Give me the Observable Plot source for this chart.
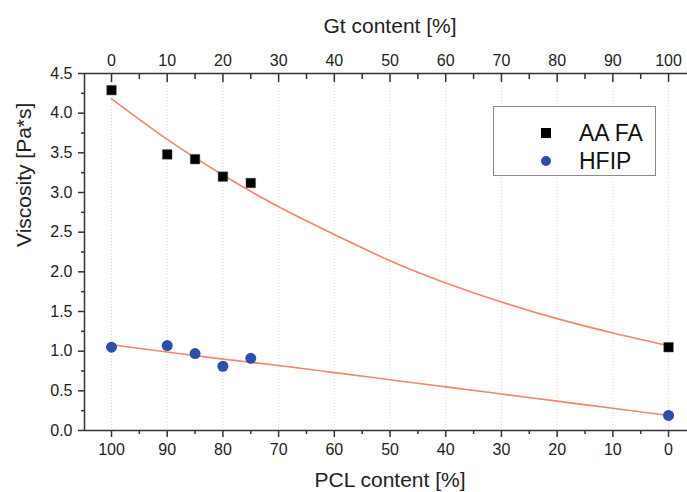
<!DOCTYPE html>
<html><head><meta charset="utf-8">
<script src="https://cdn.jsdelivr.net/npm/d3@7"></script>
<script src="https://cdn.jsdelivr.net/npm/@observablehq/plot@0.6"></script>
<style>
body{margin:0;background:#fff;font-family:"Liberation Sans",Arial,sans-serif;}
#wrap{position:relative;width:687px;height:492px;overflow:hidden;}
#legend{position:absolute;left:493px;top:106px;width:163px;height:70px;border:1px solid #8a8a8a;background:#fff;box-sizing:border-box;font-size:23px;color:#111;}
#legend .row{position:absolute;left:46px;display:flex;align-items:center;height:26px;}
#legend .row span{margin-left:27px;}
</style></head><body><div id="wrap"></div>
<script>
// Data
const gtContent = [0, 10, 15, 20, 25, 100];
const aaFa = [4.29, 3.48, 3.42, 3.20, 3.12, 1.05];
const hfip = [1.05, 1.07, 0.97, 0.81, 0.91, 0.19];
const fitGt = [0, 10, 20, 30, 40, 50, 60, 70, 80, 90, 100];
const aaFaFit = [4.18, 3.67, 3.22, 2.82, 2.47, 2.14, 1.86, 1.62, 1.41, 1.23, 1.07];
const hfipFit = [1.08, 0.99, 0.90, 0.82, 0.73, 0.64, 0.55, 0.46, 0.37, 0.28, 0.19];
const xMajor = [0, 10, 20, 30, 40, 50, 60, 70, 80, 90, 100];
const xMinor = [5, 15, 25, 35, 45, 55, 65, 75, 85, 95];
const yMajor = [0, 0.5, 1.0, 1.5, 2.0, 2.5, 3.0, 3.5, 4.0, 4.5];
const yMinor = [0.25, 0.75, 1.25, 1.75, 2.25, 2.75, 3.25, 3.75, 4.25];
const seriesNames = ["AA FA", "HFIP"];
const seriesColors = ["#000000", "#2f4fa6"];
const fitColor = "#f4846d";

const pts = (ys) => gtContent.map((g, i) => ({gt: g, v: ys[i]}));
const fit = (ys) => fitGt.map((g, i) => ({gt: g, v: ys[i]}));
const xMin = -4.85, xMax = 103.4, yMin = 0, yMax = 4.5;
const axisColor = "#333";
const tickFont = 16;

const chart = Plot.plot({
  width: 687, height: 492,
  marginLeft: 84, marginRight: 0, marginTop: 73, marginBottom: 62,
  style: {fontFamily: '"Liberation Sans", Arial, sans-serif', color: "#222", background: "#fff", overflow: "visible"},
  x: {domain: [xMin, xMax]},
  y: {domain: [yMin, yMax]},
  marks: [
    Plot.gridX(xMajor, {stroke: "#d8d8d8", strokeOpacity: 1, strokeDasharray: "1,2"}),
    // axis lines
    Plot.ruleY([yMin], {stroke: axisColor, strokeWidth: 1.5}),
    Plot.ruleY([yMax], {stroke: axisColor, strokeWidth: 1.5}),
    Plot.ruleX([xMin], {stroke: axisColor, strokeWidth: 1.5}),
    // bottom axis (PCL content = 100 - Gt)
    Plot.axisX({anchor: "bottom", ticks: xMajor, tickSize: 7, text: null, label: null, stroke: axisColor, strokeWidth: 1.5}),
    Plot.axisX({anchor: "bottom", ticks: xMinor, tickSize: 4, text: null, label: null, stroke: axisColor, strokeWidth: 1.5}),
    Plot.axisX({anchor: "bottom", ticks: xMajor, tickSize: 0, tickPadding: 13, tickFormat: d => String(100 - d), label: null, fontSize: tickFont, fill: "#222"}),
    // top axis (Gt content)
    Plot.axisX({anchor: "top", ticks: xMajor, tickSize: -8, text: null, label: null, stroke: axisColor, strokeWidth: 1.5}),
    Plot.axisX({anchor: "top", ticks: xMinor, tickSize: -5, text: null, label: null, stroke: axisColor, strokeWidth: 1.5}),
    Plot.axisX({anchor: "top", ticks: xMajor, tickSize: 0, tickPadding: 8, tickFormat: d => String(d), label: null, fontSize: tickFont, fill: "#222"}),
    // y axis
    Plot.axisY({anchor: "left", ticks: yMajor, tickSize: 6, text: null, label: null, stroke: axisColor, strokeWidth: 1.5}),
    Plot.axisY({anchor: "left", ticks: yMinor, tickSize: 3, text: null, label: null, stroke: axisColor, strokeWidth: 1.5}),
    Plot.axisY({anchor: "left", ticks: yMajor, tickSize: 0, tickPadding: 12, tickFormat: d3.format(".1f"), label: null, fontSize: tickFont, fill: "#222"}),
    // titles
    Plot.text([50], {x: d => d, frameAnchor: "top", dy: -55, text: () => "Gt content [%]", fontSize: 21, fill: "#222"}),
    Plot.text([50], {x: d => d, frameAnchor: "bottom", dy: 56, text: () => "PCL content [%]", fontSize: 21, fill: "#222"}),
    Plot.text(["Viscosity [Pa*s]"], {frameAnchor: "left", dx: -60, dy: -5, rotate: -90, text: d => d, fontSize: 21, fill: "#222"}),
    // fit curves
    Plot.line(fit(aaFaFit), {x: "gt", y: "v", stroke: fitColor, strokeWidth: 1.6, curve: "natural"}),
    Plot.line(fit(hfipFit), {x: "gt", y: "v", stroke: fitColor, strokeWidth: 1.6, curve: "natural"}),
    // data points
    Plot.dot(pts(aaFa), {x: "gt", y: "v", symbol: "square", r: 5.4, fill: seriesColors[0], stroke: "#555", strokeWidth: 0.5}),
    Plot.dot(pts(hfip), {x: "gt", y: "v", symbol: "circle", r: 5.5, fill: seriesColors[1]})
  ]
});
const wrap = document.getElementById("wrap");
wrap.appendChild(chart);

// legend
const lg = document.createElement("div");
lg.id = "legend";
seriesNames.forEach((name, i) => {
  const row = document.createElement("div");
  row.className = "row";
  row.style.top = (i === 0 ? 13 : 41) + "px";
  const sym = i === 0
    ? `<svg width="12" height="12"><rect x="1" y="1" width="10" height="10" fill="${seriesColors[0]}"/></svg>`
    : `<svg width="12" height="12"><circle cx="6" cy="6" r="5" fill="${seriesColors[1]}"/></svg>`;
  row.innerHTML = sym + `<span>${name}</span>`;
  lg.appendChild(row);
});
wrap.appendChild(lg);
</script>
</body></html>
